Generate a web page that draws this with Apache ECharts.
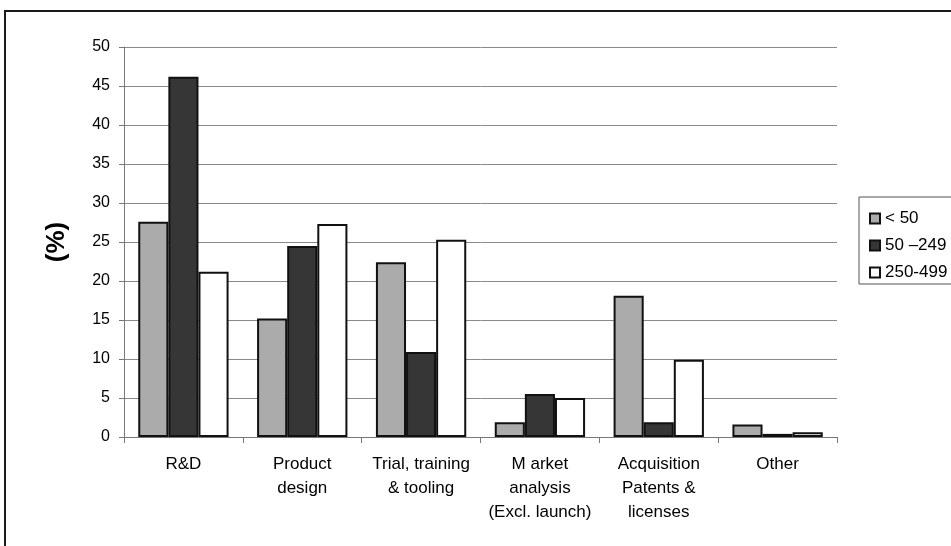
<!DOCTYPE html>
<html>
<head>
<meta charset="utf-8">
<script src="https://cdn.jsdelivr.net/npm/echarts@6/dist/echarts.min.js"></script>
<style>
html, body { margin: 0; padding: 0; background: #fff; }
#main { width: 951px; height: 546px; }
</style>
</head>
<body>
<div id="main"></div>
<script>
// categories and values
var categories = ['R&D', 'Product\ndesign', 'Trial, training\n& tooling', 'M arket\nanalysis\n(Excl. launch)', 'Acquisition\nPatents &\nlicenses', 'Other'];
var seriesNames = ['< 50', '50 \u2013249', '250-499'];
var small = [27.6, 15.2, 22.4, 1.9, 18.1, 1.6];
var medium = [46.2, 24.5, 10.9, 5.5, 1.9, 0.4];
var large = [21.2, 27.3, 25.3, 5.0, 9.9, 0.6];
var yTicks = [0, 5, 10, 15, 20, 25, 30, 35, 40, 45, 50];

var font = 'Liberation Sans, Arial, sans-serif';
var fills = ['#ababab', '#363636', '#ffffff'];

var myChart = echarts.init(document.getElementById('main'));
myChart.setOption({
  animation: false,
  textStyle: { fontFamily: font },
  grid: { left: 124, top: 47, right: 114, bottom: 109 },
  graphic: [
    // outer frame (cut at right and bottom like the scan)
    { type: 'rect', shape: { x: 5, y: 11, width: 960, height: 560 },
      style: { fill: 'none', stroke: '#1a1a1a', lineWidth: 2 }, z: -1 },
    // legend box
    { type: 'rect', shape: { x: 859, y: 197, width: 110, height: 87 },
      style: { fill: '#fff', stroke: '#555', lineWidth: 1 }, z: 1 }
  ],
  legend: {
    orient: 'vertical',
    left: 864,
    top: 205,
    itemWidth: 10,
    itemHeight: 10,
    itemGap: 10,
    icon: 'rect',
    z: 5,
    textStyle: { fontFamily: font, fontSize: 17, color: '#000' },
    data: seriesNames
  },
  xAxis: {
    type: 'category',
    data: categories,
    axisLine: { lineStyle: { color: '#777' } },
    axisTick: { show: true, length: 6, lineStyle: { color: '#777' } },
    axisLabel: {
      interval: 0, margin: 15, color: '#000',
      fontFamily: font, fontSize: 17, lineHeight: 24
    }
  },
  yAxis: {
    type: 'value',
    min: yTicks[0],
    max: yTicks[yTicks.length - 1],
    interval: 5,
    name: '(%)',
    nameLocation: 'middle',
    nameGap: 54,
    nameRotate: 90,
    nameTextStyle: { fontFamily: font, fontSize: 26, fontWeight: 'bold', color: '#000' },
    axisLine: { show: true, lineStyle: { color: '#777' } },
    axisTick: { show: true, length: 5, lineStyle: { color: '#777' } },
    axisLabel: { color: '#000', fontFamily: font, fontSize: 16, margin: 14 },
    splitLine: { lineStyle: { color: '#8a8a8a', width: 1 } }
  },
  series: [
    { name: seriesNames[0], type: 'bar', data: small, barGap: '0%', barCategoryGap: '24%',
      itemStyle: { color: fills[0], borderColor: '#111', borderWidth: 2 } },
    { name: seriesNames[1], type: 'bar', data: medium,
      itemStyle: { color: fills[1], borderColor: '#111', borderWidth: 2 } },
    { name: seriesNames[2], type: 'bar', data: large,
      itemStyle: { color: fills[2], borderColor: '#111', borderWidth: 2 } }
  ]
});
</script>
</body>
</html>
